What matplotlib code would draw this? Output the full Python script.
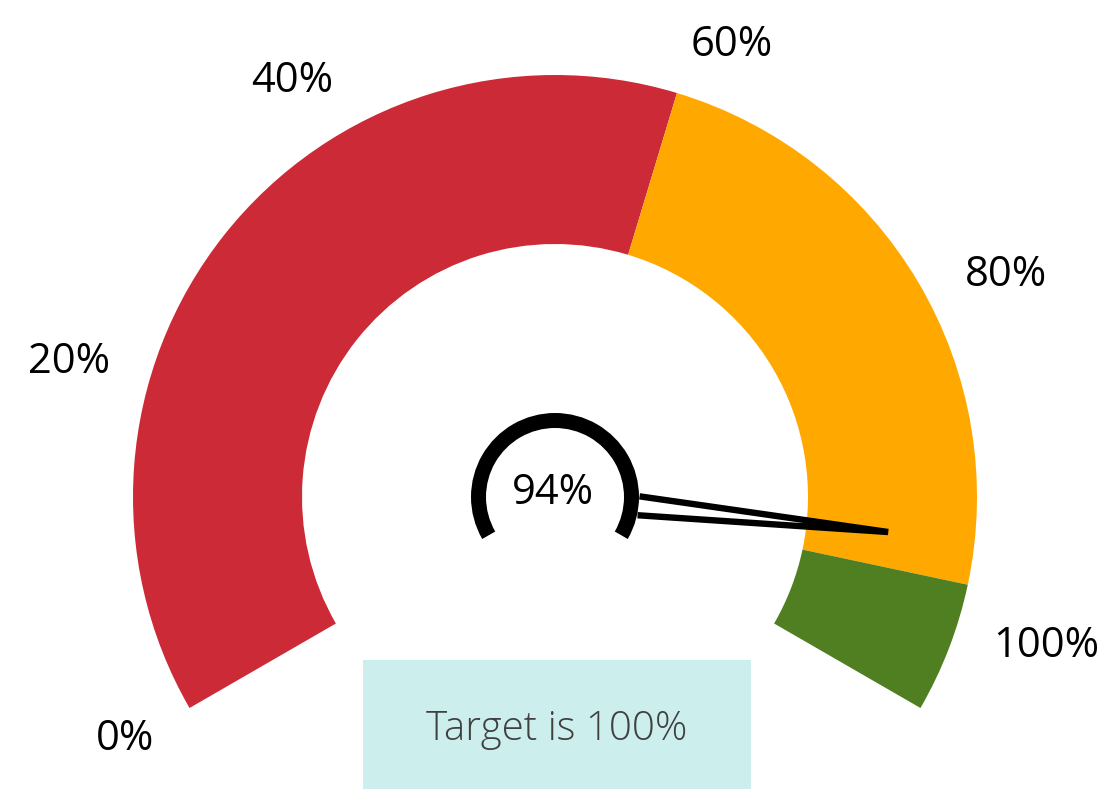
import numpy as np
import matplotlib
matplotlib.use("Agg")
import matplotlib.pyplot as plt
from matplotlib.patches import Wedge, Rectangle

# gauge data (percent of target)
band_edges = [0, 57, 92.5, 100]
band_colors = ["#CC2A36", "#FFA800", "#507F21"]
needle_value = 90
value_text = "94%"
target_text = "Target is 100%"
tick_labels = ["0%", "20%", "40%", "60%", "80%", "100%"]

# layout (pixels, y measured from top of the image)
W, H = 1107, 789
CX, CY = 555, H - 497
R_OUT, R_IN = 422, 253
A0, SWEEP = 210.0, 240.0
label_pos = [(125, 750), (69.5, 373), (292.5, 92), (731.5, 56), (1006, 286), (1046, 657)]
FONT = "Open Sans"


def ang(v):
    return A0 - SWEEP * v / 100.0


fig = plt.figure(figsize=(W / 100, H / 100), dpi=100)
ax = fig.add_axes([0, 0, 1, 1])
ax.set_xlim(0, W); ax.set_ylim(0, H); ax.set_aspect("equal"); ax.axis("off")

# coloured bands
for lo, hi, c in zip(band_edges[:-1], band_edges[1:], band_colors):
    ax.add_patch(Wedge((CX, CY), R_OUT, ang(hi), ang(lo), width=R_OUT - R_IN, facecolor=c, lw=0))

# hub ring
ax.add_patch(Wedge((CX, CY), 84, ang(100), ang(0), width=15, facecolor="black", lw=0))

# needle: two converging strokes from the hub to the tip
a = np.deg2rad(ang(needle_value))
d = np.array([np.cos(a), np.sin(a)]); p = np.array([-np.sin(a), np.cos(a)])
c0 = np.array([CX, CY])
b1 = c0 + 84 * d + 9.5 * p
b2 = c0 + 84 * d - 9.5 * p
tip = c0 + 335 * d
pts = np.array([b1, tip, b2])
ax.plot(pts[:, 0], pts[:, 1], color="black", lw=4.6, solid_joinstyle="miter", solid_capstyle="butt")

ax.text(CX - 2, H - 504, value_text, ha="center", va="baseline", fontsize=30, family=FONT, color="black")

for lab, (x, y) in zip(tick_labels, label_pos):
    ax.text(x, H - y, lab, ha="center", va="baseline", fontsize=30, family=FONT, color="black")

# target box
ax.add_patch(Rectangle((363, 0), 388, H - 660, facecolor="#CCEFED", lw=0))
ax.text(557, H - 740, target_text, ha="center", va="baseline", fontsize=29, family=FONT,
        fontweight="light", color="#404040")

fig.savefig("out.png", dpi=100)
